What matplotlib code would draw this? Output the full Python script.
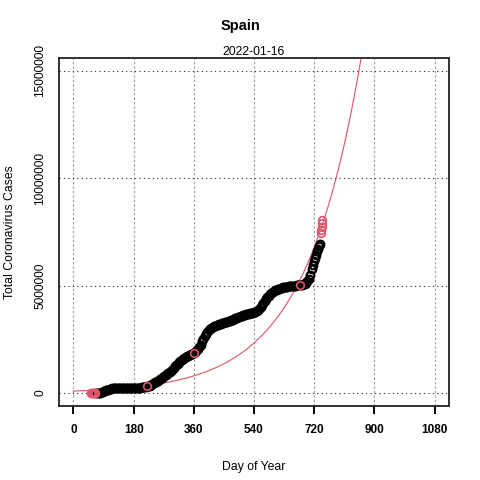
import matplotlib
matplotlib.use("Agg")
import matplotlib.pyplot as plt
import numpy as np

# ---- data (cumulative cases, millions) ----
black_days = list(range(68, 717, 4)) + [719, 722, 725, 728, 731, 734, 737]
black_vals_m = [
    0.0012, 0.003, 0.010, 0.020, 0.042, 0.072, 0.103, 0.131, 0.153, 0.168,
    0.188, 0.206, 0.224, 0.236, 0.216, 0.222, 0.225, 0.229, 0.232, 0.234,
    0.237, 0.239, 0.240, 0.241, 0.243, 0.244, 0.246, 0.247, 0.248, 0.250,
    0.252, 0.255, 0.258, 0.261, 0.266, 0.275, 0.287, 0.300, 0.314, 0.326,
    0.350, 0.380, 0.410, 0.450, 0.495, 0.540, 0.585, 0.630, 0.680, 0.725,
    0.765, 0.805, 0.840, 0.875, 0.920, 0.965, 1.02, 1.09, 1.18, 1.245,
    1.305, 1.37, 1.44, 1.50, 1.55, 1.60, 1.64, 1.68, 1.72, 1.74,
    1.78, 1.81, 1.835, 1.85, 1.90, 1.98, 2.07, 2.16, 2.25, 2.41,
    2.54, 2.65, 2.75, 2.85, 2.92, 2.99, 3.04, 3.09, 3.12, 3.145,
    3.17, 3.19, 3.205, 3.22, 3.245, 3.27, 3.29, 3.31, 3.32, 3.345,
    3.37, 3.40, 3.425, 3.45, 3.48, 3.51, 3.535, 3.555, 3.58, 3.60,
    3.62, 3.645, 3.665, 3.68, 3.70, 3.715, 3.73, 3.745, 3.76, 3.785,
    3.815, 3.86, 3.92, 4.00, 4.10, 4.21, 4.31, 4.40, 4.47, 4.54,
    4.61, 4.655, 4.70, 4.74, 4.78, 4.815, 4.84, 4.865, 4.89, 4.905,
    4.92, 4.935, 4.95, 4.96, 4.97, 4.975, 4.985, 4.99, 5.00, 5.008,
    5.016, 5.024, 5.032, 5.04, 5.05, 5.06, 5.08, 5.12, 5.20, 5.32,
    5.52, 5.76, 5.98,
    6.15, 6.30, 6.45, 6.60, 6.72, 6.84, 6.95,
]
red_days = [52, 53, 54, 55, 56, 57, 58, 59, 60, 61, 62, 63, 64, 65,
            221, 361, 679, 740, 741, 742, 743, 744]
red_vals_m = [0.0, 0.0, 0.0, 0.0, 0.0, 0.0, 0.0, 0.0, 0.0, 0.0, 0.0, 0.001, 0.002, 0.003,
              0.34, 1.88, 5.01, 7.44, 7.60, 7.75, 7.90, 8.05]

# exponential fit parameters (cases = a * exp(b * day))
fit_a = 94700.0
fit_b = 0.005933

x_ticks = [0, 180, 360, 540, 720, 900, 1080]
y_ticks = [0, 5000000, 10000000, 15000000]
y_tick_labels = ["0", "5000000", "10000000", "15000000"]

title = "Spain"
subtitle = "2022-01-16"
xlabel = "Day of Year"
ylabel = "Total Coronavirus Cases"

RED = "#DF536B"
plt.rcParams['font.family'] = ['Liberation Sans', 'DejaVu Sans']

fig = plt.figure(figsize=(4.8, 4.8), dpi=100)
ax = fig.add_axes([59/480, 1-406/480, (449-59)/480, (406-58)/480])

ax.set_xlim(-43.2, 1123.2)
ax.set_ylim(-600000, 15600000)

# grid lines
for xv in x_ticks:
    ax.axvline(xv, color="#9a9a9a", lw=0.8, ls=(0, (2.0, 2.0)), zorder=1)
for yv in y_ticks:
    ax.axhline(yv, color="#222222", lw=0.8, ls=(0, (1, 3)), zorder=1)

# data points
bv = np.array(black_vals_m) * 1e6
ax.plot(black_days, bv, ls="none", marker="o", ms=5.5, mfc="none",
        mec="black", mew=1.6, zorder=3)
rv = np.array(red_vals_m) * 1e6
ax.plot(red_days, rv, ls="none", marker="o", ms=5.5, mfc="none",
        mec=RED, mew=1.2, zorder=4)

# fitted curve
xs = np.linspace(0, 1080, 600)
ax.plot(xs, fit_a * np.exp(fit_b * xs), color=RED, lw=0.8, zorder=2)

# axes styling
for s in ax.spines.values():
    s.set_linewidth(1.3)
    s.set_color("#222222")
ax.set_xticks(x_ticks)
ax.set_xticklabels([str(v) for v in x_ticks], fontweight="bold")
ax.set_yticks(y_ticks)
ax.set_yticklabels(y_tick_labels, rotation=90, va="center")
ax.tick_params(axis="x", length=6, width=1.4, pad=7, labelsize=8.5, direction="out")
ax.tick_params(axis="y", length=0, pad=9, labelsize=8.6)

fig.text(0.5, 1-26/480, title, ha="center", va="center", fontsize=10.5, fontweight="bold")
fig.text(254/480, 1-52/480, subtitle, ha="center", va="center", fontsize=8.8)
fig.text(254/480, 1-467/480, xlabel, ha="center", va="center", fontsize=8.8)
fig.text(10/480, 1-232/480, ylabel, ha="center", va="center", fontsize=8.8, rotation=90)

fig.savefig("out.png", dpi=100)
